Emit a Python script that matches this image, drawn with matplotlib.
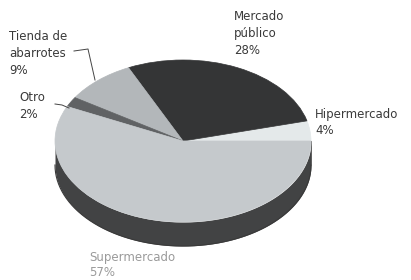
import numpy as np
import matplotlib.pyplot as plt

# data (percent), counter-clockwise from 0 degrees
labels = ["Hipermercado", "Mercado\npúblico", "Tienda de\nabarrotes", "Otro", "Supermercado"]
values = [4, 28, 9, 2, 57]
colors = ["#e4e9ea", "#343536", "#b3b7ba", "#606264", "#c5c9cc"]

W, H = 411, 280
cx, cy = 183, 141      # pie centre in pixels
rx, ry = 128, 81       # half axes of the top face
depth = 24 / ry        # side height in data units

fig = plt.figure(figsize=(W / 100, H / 100), dpi=100)
ax = fig.add_axes([0, 0, 1, 1])

# side of the cylinder (front half only)
t = np.linspace(np.pi, 2 * np.pi, 200)
xs = np.cos(t)
ytop = np.sin(t)
ax.fill_between(xs, ytop, ytop - depth, color="#424344", zorder=1, lw=0)
ax.plot(xs, ytop - depth, color="#3a3a3a", lw=0.8, zorder=1)
ax.plot([1, 1], [0, -depth], color="#555", lw=0.6, zorder=1)

wedges, _ = ax.pie(values, colors=colors, startangle=0, counterclock=True,
                   radius=1, wedgeprops=dict(linewidth=0.5))
for w, c in zip(wedges, colors):
    w.set_zorder(2)
    w.set_edgecolor(c)

ax.set_aspect("auto")
ax.set_xlim(-cx / rx, (W - cx) / rx)
ax.set_ylim((cy - H) / ry, cy / ry)
ax.axis("off")


def px(x, y):
    return x / W, 1 - y / H


txt = dict(fontsize=8.5, family="DejaVu Sans", color="#3a3a3a", linespacing=1.42,
           va="top", ha="left")
fig.text(*px(234, 10), "Mercado\npúblico\n28%", **txt)
fig.text(*px(315, 108), "Hipermercado\n4%", **dict(txt, linespacing=1.3))
fig.text(*px(9, 30), "Tienda de\nabarrotes\n9%", **txt)
fig.text(*px(19, 91), "Otro\n2%", **txt)
fig.text(*px(89, 251), "Supermercado\n57%", **dict(txt, color="#9a9a9a", linespacing=1.25))

# leader lines (figure pixels)
lk = dict(color="#444444", lw=0.7, transform=fig.transFigure)
fig.lines.append(plt.Line2D([74 / W, 88 / W, 95 / W], [1 - 51 / H, 1 - 49 / H, 1 - 80 / H], **lk))
fig.lines.append(plt.Line2D([55 / W, 62 / W, 69 / W], [1 - 104 / H, 1 - 105 / H, 1 - 108 / H], **lk))

fig.savefig("out.png", dpi=100)
